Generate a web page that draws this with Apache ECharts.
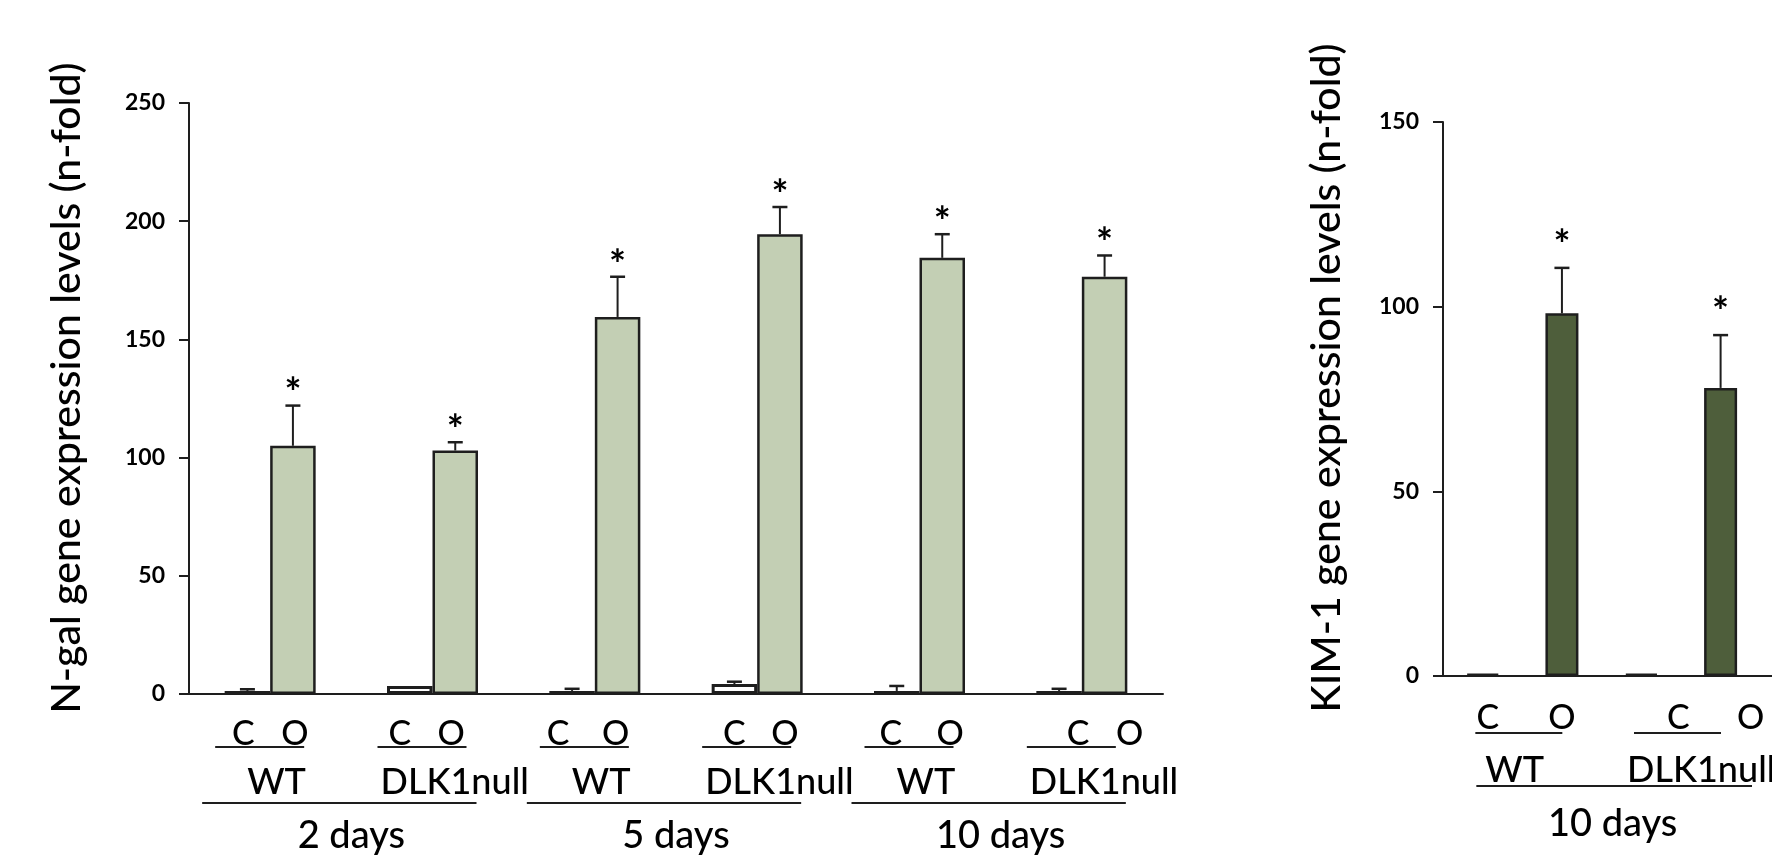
<!DOCTYPE html>
<html>
<head>
<meta charset="utf-8">
<script src="https://cdn.jsdelivr.net/npm/echarts@6/dist/echarts.min.js"></script>
<style>
  html, body { margin: 0; padding: 0; background: #fff; }
  #chart { width: 1772px; height: 867px; }
</style>
</head>
<body>
<div id="chart"></div>
<script>
// N-gal panel (left): one group = C and O bars of one genotype
const ngalGenotypes = ['WT', 'DLK1null', 'WT', 'DLK1null', 'WT', 'DLK1null']
const ngalDays = ['2 days', '5 days', '10 days']
const ngalControl = [1.3, 3.4, 1.3, 4.2, 1.3, 1.3]
const ngalControlErr = [2, 3.4, 2.2, 5.2, 3.4, 2.2]
const ngalObstructed = [105, 103, 159.5, 194.5, 184.5, 176.5]
const ngalObstructedErr = [122, 106.5, 176.5, 206, 194.5, 185.5]
const ngalTicks = [0, 50, 100, 150, 200, 250]

// KIM-1 panel (right), cut off at the picture edge
const kimGenotypes = ['WT', 'DLK1null', '']
const kimDays = ['10 days']
const kimControl = [0.5, 0.5]
const kimControlErr = [0.5, 0.5]
const kimObstructed = [98.2, 78]
const kimObstructedErr = [110.5, 92.3]
const kimTicks = [0, 50, 100, 150]

const font = 'Lato, "Open Sans", sans-serif'
const ink = '#000'
const lineInk = '#1e1e1e'

// layout of the labels under each panel (pixels, relative to group centre / baseline)
const ngalLayout = {
  barHalf: 22.75, rows: [40, 53, 88, 109, 142],
  cShift: [-4, -10, -14, 0, -6, 19], oShift: [2, -4, -2, 5, 8, 25],
  underline: [-55, 34], genoLeft: { WT: -23, DLK1null: -52 },
  dayLine: [-68, 44], dayShift: 0, starGap: 11
}
const kimLayout = {
  barHalf: 39.6, rows: [42, 57, 94, 110, 148],
  cShift: [5, 37], oShift: [0, 30],
  underline: [-47, 40], genoLeft: { WT: -37, DLK1null: -54 },
  dayLine: [-46, 71], dayShift: 11, starGap: 22
}

const label = (text, x, y, size, align) => ({
  type: 'text',
  style: { text, x, y, fill: ink, font: `500 ${size}px ${font}`, align: align || 'center', verticalAlign: 'middle' }
})
const hLine = (x1, x2, y) => ({
  type: 'line',
  shape: { x1, y1: y, x2, y2: y },
  style: { stroke: lineInk, lineWidth: 2 }
})

const labelRenderer = (layout, genotypes, days) => (params, api) => {
  const i = api.value(0)
  const [cx, y0] = api.coord([i, 0])
  const r = layout.rows
  const geno = genotypes[i]
  const children = [
    label('C', cx - layout.barHalf + layout.cShift[i], y0 + r[0], 34),
    label('O', cx + layout.barHalf + layout.oShift[i], y0 + r[0], 34),
    hLine(cx + layout.underline[0], cx + layout.underline[1], y0 + r[1]),
    label(geno, cx + layout.genoLeft[geno], y0 + r[2], 36, 'left')
  ]
  if (i % 2 === 0) {
    const cxNext = api.coord([i + 1, 0])[0]
    children.push(hLine(cx + layout.dayLine[0], cxNext + layout.dayLine[1], y0 + r[3]))
    children.push(label(days[i / 2], (cx + cxNext) / 2 + layout.dayShift, y0 + r[4], 38))
  }
  return { type: 'group', children }
}

const errorRenderer = (layout) => (params, api) => {
  const i = api.value(0)
  const side = api.value(1)
  const top = api.coord([i, api.value(3)])
  const bar = api.coord([i, api.value(2)])
  const x = bar[0] + side * layout.barHalf
  const children = []
  if (top[1] < bar[1] - 0.5) {
    children.push({ type: 'line', shape: { x1: x, y1: bar[1], x2: x, y2: top[1] }, style: { stroke: lineInk, lineWidth: 2 } })
    children.push({ type: 'line', shape: { x1: x - 7.5, y1: top[1], x2: x + 7.5, y2: top[1] }, style: { stroke: lineInk, lineWidth: 2.5 } })
  }
  if (api.value(4)) {
    children.push({
      type: 'text',
      style: { text: '*', x, y: top[1] - layout.starGap, fill: ink, font: `bold 40px ${font}`, align: 'center', verticalAlign: 'middle' }
    })
  }
  return { type: 'group', children }
}

const errorData = (ctrl, ctrlErr, obs, obsErr) => {
  const out = []
  ctrl.forEach((v, i) => {
    out.push([i, -1, v, ctrlErr[i], 0])
    out.push([i, 1, obs[i], obsErr[i], 1])
  })
  return out
}

const yAxisBase = (gridIndex, ticks, name, gap, pad) => ({
  gridIndex,
  type: 'value',
  min: ticks[0],
  max: ticks[ticks.length - 1],
  interval: ticks[1] - ticks[0],
  name,
  nameLocation: 'middle',
  nameGap: gap,
  nameTextStyle: { fontFamily: font, fontWeight: 500, fontSize: 41, color: ink, padding: [0, 0, 0, pad] },
  axisLine: { show: true, lineStyle: { color: lineInk, width: 2 } },
  axisTick: { show: true, inside: false, length: 10, lineStyle: { color: lineInk, width: 2 } },
  axisLabel: { fontFamily: font, fontWeight: 'bold', fontSize: 23, color: ink, margin: 24 },
  splitLine: { show: false }
})

const xAxisBase = (gridIndex, cats) => ({
  gridIndex,
  type: 'category',
  data: cats.map((c, i) => c + i),
  axisLine: { show: true, onZero: false, lineStyle: { color: lineInk, width: 2 } },
  axisTick: { show: false },
  axisLabel: { show: false }
})

const barStyle = (fill, border) => ({ color: fill, borderColor: lineInk, borderWidth: border })

const chart = echarts.init(document.getElementById('chart'))
chart.setOption({
  animation: false,
  backgroundColor: '#fff',
  grid: [
    { left: 189, top: 103, width: 974, bottom: 173, outerBoundsMode: 'none' },
    { left: 1443, top: 122, width: 476, bottom: 191, outerBoundsMode: 'none' }
  ],
  xAxis: [xAxisBase(0, ngalGenotypes), xAxisBase(1, kimGenotypes)],
  yAxis: [
    yAxisBase(0, ngalTicks, 'N-gal gene expression levels (n-fold)', 102, 21),
    yAxisBase(1, kimTicks, 'KIM-1 gene expression levels (n-fold)', 96, 42)
  ],
  series: [
    { type: 'bar', name: 'C', xAxisIndex: 0, yAxisIndex: 0, data: ngalControl, barWidth: 45.5, barGap: '0%', itemStyle: barStyle('#ffffff', 3) },
    { type: 'bar', name: 'O', xAxisIndex: 0, yAxisIndex: 0, data: ngalObstructed, barWidth: 45.5, barGap: '0%', itemStyle: barStyle('#c3cfb4', 2.5) },
    { type: 'bar', name: 'C', xAxisIndex: 1, yAxisIndex: 1, data: kimControl, barWidth: 33, barGap: '140%', itemStyle: barStyle('#ffffff', 3) },
    { type: 'bar', name: 'O', xAxisIndex: 1, yAxisIndex: 1, data: kimObstructed, barWidth: 33, barGap: '140%', itemStyle: barStyle('#4e5e3b', 2.5) },
    {
      type: 'custom', xAxisIndex: 0, yAxisIndex: 0, clip: false, z: 5,
      renderItem: errorRenderer(ngalLayout),
      data: errorData(ngalControl, ngalControlErr, ngalObstructed, ngalObstructedErr)
    },
    {
      type: 'custom', xAxisIndex: 1, yAxisIndex: 1, clip: false, z: 5,
      renderItem: errorRenderer(kimLayout),
      data: errorData(kimControl, kimControlErr, kimObstructed, kimObstructedErr)
    },
    {
      type: 'custom', xAxisIndex: 0, yAxisIndex: 0, clip: false,
      renderItem: labelRenderer(ngalLayout, ngalGenotypes, ngalDays),
      data: ngalGenotypes.map((g, i) => [i, 0])
    },
    {
      type: 'custom', xAxisIndex: 1, yAxisIndex: 1, clip: false,
      renderItem: labelRenderer(kimLayout, kimGenotypes, kimDays),
      data: kimControl.map((v, i) => [i, 0])
    }
  ]
})
</script>
</body>
</html>
